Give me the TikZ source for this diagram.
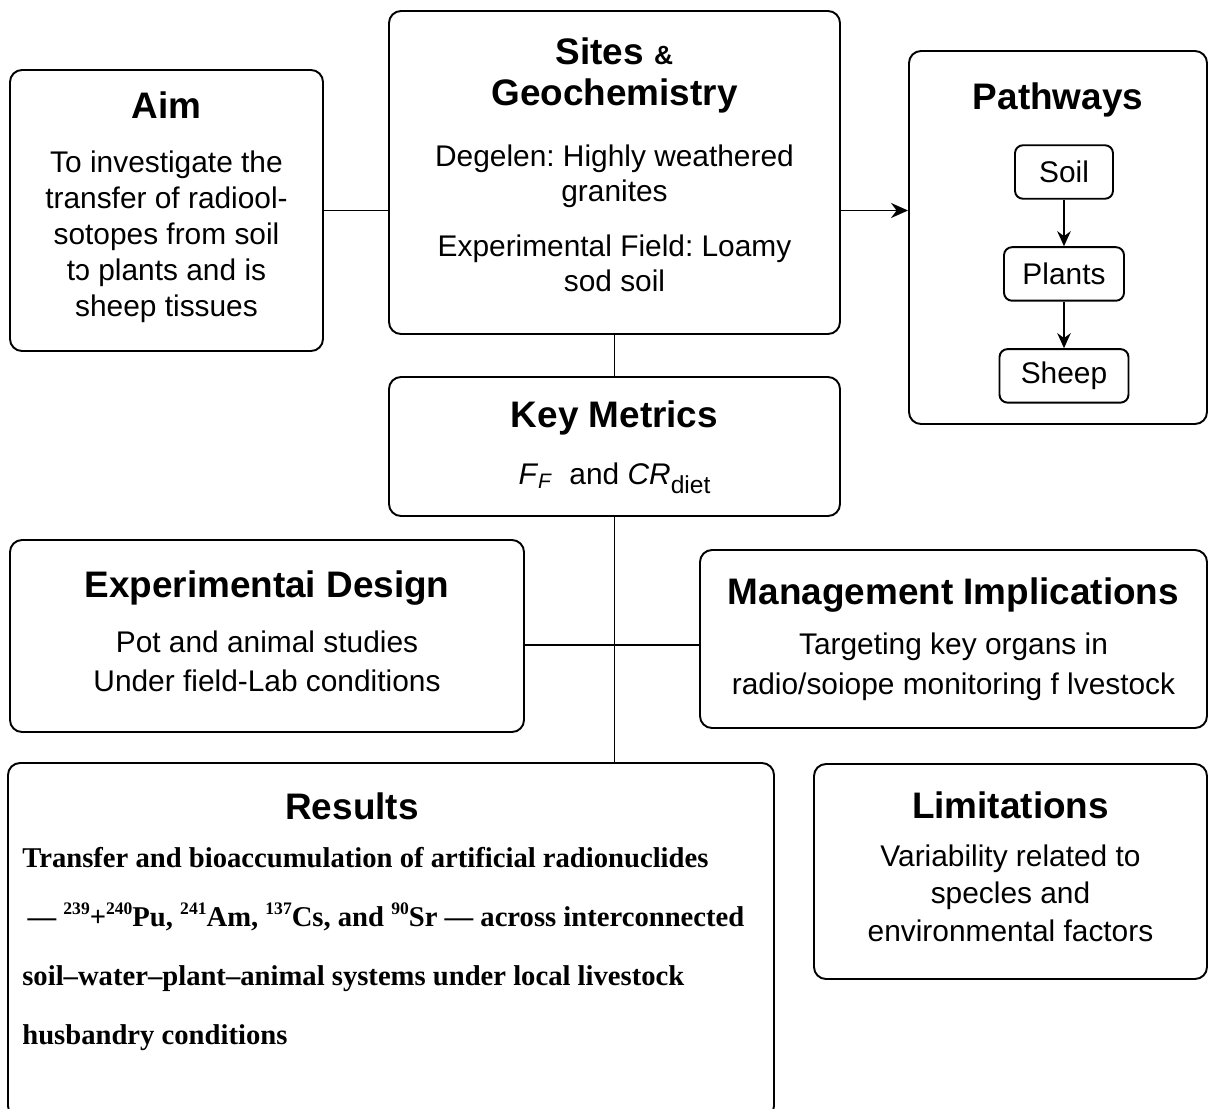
\documentclass[tikz,border=0pt]{standalone}
\usepackage{fontspec}
\setmainfont{Liberation Sans}
\newfontfamily\resfont{Liberation Serif}
\usetikzlibrary{arrows.meta, positioning}
\frenchspacing
\newcommand{\nuc}[1]{\raisebox{0.42em}{\fontsize{10}{10}\selectfont #1}}
\tikzset{
  box/.style={draw, line width=1.1pt, rounded corners=0.24cm, inner sep=0pt},
  pbox/.style={draw, line width=1.1pt, rounded corners=0.16cm, minimum height=1.07cm, inner sep=0pt, font=\fontsize{17}{20}\selectfont},
  ttl/.style={anchor=base, inner sep=0pt, align=center, font=\fontsize{21}{24}\selectfont\bfseries},
  txt/.style={anchor=base, inner sep=0pt, align=center, font=\fontsize{17}{20.4}\selectfont},
  conn/.style={line width=1.1pt},
  arr/.style={conn, -{Stealth[length=0.34cm, width=0.3cm]}},
  parr/.style={conn, -{Stealth[length=0.3cm, width=0.27cm]}}
}

\begin{document}
\begin{tikzpicture}
  \useasboundingbox (0,0) rectangle (24.18,-22.16);

  % main boxes
  \node[box, minimum width=6.26cm,  minimum height=5.62cm] (aim)   at (3.33,-4.21)  {};
  \node[box, minimum width=9.02cm,  minimum height=6.46cm] (sites) at (12.29,-3.45) {};
  \node[box, minimum width=5.96cm,  minimum height=7.46cm] (path)  at (21.16,-4.75) {};
  \node[box, minimum width=9.02cm,  minimum height=2.78cm] (key)   at (12.29,-8.93) {};
  \node[box, minimum width=10.28cm, minimum height=3.84cm] (exp)   at (5.34,-12.72) {};
  \node[box, minimum width=10.14cm, minimum height=3.56cm] (mgmt)  at (19.07,-12.78) {};
  \node[box, minimum width=15.32cm, minimum height=7.1cm]  (res)   at (7.82,-18.81) {};
  \node[box, minimum width=7.86cm,  minimum height=4.3cm]  (lim)   at (20.21,-17.43) {};

  % aim (multi-line text sits on its last baseline)
  \node[ttl] (aimT) at ([yshift=-0.98cm]aim.north) {Aim};
  \node[txt] (aimB) at ([yshift=-4.94cm]aim.north)
    {To investigate the\\transfer of radiool-\\sotopes from soil\\tɔ plants and is\\sheep tissues};

  % sites
  \node[ttl, font=\fontsize{21}{23.2}\selectfont\bfseries] (sitesT) at ([yshift=-1.9cm]sites.north)
    {Sites {\fontsize{15}{18}\selectfont\&}\\Geochemistry};
  \node[txt, font=\fontsize{17}{19.8}\selectfont] (sitesB) at ([yshift=-5.62cm]sites.north)
    {Degelen: Highly weathered\\granites\\[0.4cm]Experimental Field: Loamy\\sod soil};

  % pathways
  \node[ttl] (pathT) at ([yshift=-1.18cm]path.north) {Pathways};
  \node[pbox, minimum width=1.96cm] (soil) at (21.28,-3.44) {Soil};
  \node[pbox, minimum width=2.4cm, below=0.93cm of soil] (plants) {Plants};
  \node[pbox, minimum width=2.58cm, below=0.93cm of plants] (sheep) {Sheep};
  \draw[parr] (soil) -- (plants);
  \draw[parr] (plants) -- (sheep);

  % key metrics
  \node[ttl] (keyT) at ([yshift=-1.02cm]key.north) {Key Metrics};
  \node[txt] (keyB) at ([yshift=-2.16cm]key.north)
    {\textit{F}\textsubscript{\textit{F}}\ \ and \textit{CR}\raisebox{-0.3em}{\fontsize{14}{14}\selectfont diet}};

  % experimental design
  \node[ttl] (expT) at ([yshift=-1.16cm]exp.north) {Experimentai Design};
  \node[txt, font=\fontsize{17}{22.1}\selectfont] (expB) at ([yshift=-3.04cm]exp.north)
    {Pot and animal studies\\Under field-Lab conditions};

  % management
  \node[ttl] (mgmtT) at ([yshift=-1.1cm]mgmt.north) {Management Implications};
  \node[txt, font=\fontsize{17}{22.7}\selectfont] (mgmtB) at ([yshift=-2.9cm]mgmt.north)
    {Targeting key organs in\\radio/soiope monitoring f lvestock};

  % results
  \node[ttl] (resT) at (7.04,-16.38) {Results};
  \node[anchor=base west, inner sep=0pt, align=left, font=\resfont\fontsize{16.3}{33.5}\selectfont\bfseries] (resB) at (0.44,-20.88)
    {Transfer and bioaccumulation of artificial radionuclides\\
     \hspace{3pt}— \nuc{239}+\nuc{240}Pu, \nuc{241}Am, \nuc{137}Cs, and \nuc{90}Sr — across interconnected\\
     soil–water–plant–animal systems under local livestock\\
     husbandry conditions};

  % limitations
  \node[ttl] (limT) at ([yshift=-1.1cm]lim.north) {Limitations};
  \node[txt, font=\fontsize{17}{21.2}\selectfont] (limB) at ([yshift=-3.56cm]lim.north)
    {Variability related to\\specles and\\environmental factors};

  % connectors
  \coordinate (hub) at (12.29,-12.9);
  \draw[conn] (aim.east) -- (aim.east -| sites.west);
  \draw[arr] (sites.east |- aim.east) -- (path.west |- aim.east);
  \draw[conn] (sites.south) -- (key.north);
  \draw[conn] (key.south) -- (key.south |- res.north);
  \draw[conn] (exp.east |- hub) -- (mgmt.west |- hub);

\end{tikzpicture}
\end{document}
